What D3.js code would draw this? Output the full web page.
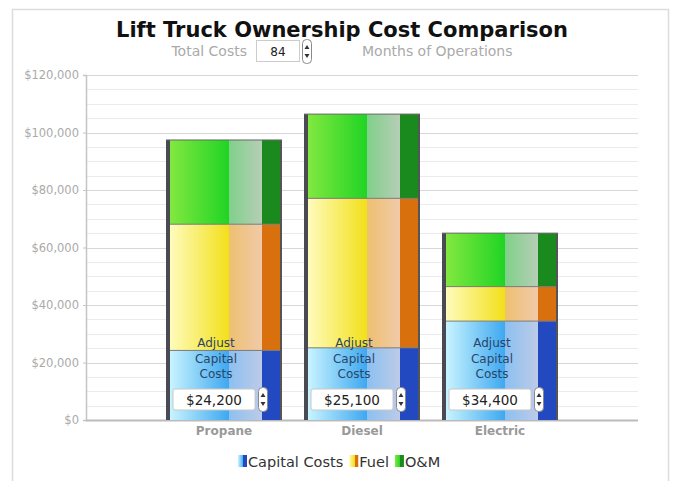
<!DOCTYPE html>
<html>
<head>
<meta charset="utf-8">
<script src="https://cdn.jsdelivr.net/npm/d3@7/dist/d3.min.js"></script>
<style>
  html, body { margin: 0; padding: 0; background: #fff; }
  svg { display: block; font-family: "DejaVu Sans", Verdana, sans-serif; }
</style>
</head>
<body>
<svg id="chart" width="678" height="481"></svg>
<script>
// Chart values
const categories = ['Propane', 'Diesel', 'Electric'];
const capital = [24200, 25100, 34400];
const fuel = [43900, 52000, 12000];
const om = [29300, 29300, 18600];
const capitalLabels = ['$24,200', '$25,100', '$34,400'];
const yTicks = [0, 20000, 40000, 60000, 80000, 100000, 120000];
const months = 84;
const seriesNames = ['Capital Costs', 'Fuel', 'O&M'];

const W = 678, H = 481;
const margin = { top: 75, right: 40, bottom: 61, left: 86 };
const svg = d3.select('#chart');

// outer frame
svg.append('rect').attr('x', 12.5).attr('y', 9.5).attr('width', 656).attr('height', 475)
  .attr('fill', '#fff').attr('stroke', '#dcdcdc').attr('stroke-width', 1.5);

const x = d3.scalePoint().domain(categories).range([margin.left, W - margin.right]).padding(1);
const y = d3.scaleLinear().domain([0, 120000]).range([H - margin.bottom, margin.top]);

// gradients — face has a bright part then a muted part, plus a darker side strip
const defs = svg.append('defs');
const palette = {
  'Capital Costs': { a: '#c8f4ff', b: '#3ea8f0', c: '#8cc0f0', d: '#bccbe8', side: '#2349c0' },
  'Fuel':          { a: '#fffbbc', b: '#f2e01a', c: '#eec070', d: '#f0caa8', side: '#d8700e' },
  'O&M':           { a: '#82e840', b: '#20d424', c: '#80d08a', d: '#b6ceb6', side: '#1b8a1e' }
};
seriesNames.forEach((s, i) => {
  const p = palette[s];
  const g = defs.append('linearGradient').attr('id', 'face' + i)
    .attr('x1', 0).attr('x2', 1).attr('y1', 0).attr('y2', 0);
  [[0, p.a], [0.64, p.b], [0.64, p.c], [1, p.d]].forEach(([o, c]) =>
    g.append('stop').attr('offset', o).attr('stop-color', c));
  const lg = defs.append('linearGradient').attr('id', 'leg' + i)
    .attr('x1', 0).attr('x2', 1).attr('y1', 0).attr('y2', 0);
  [[0, p.a], [0.6, p.b], [0.6, p.side], [1, p.side]].forEach(([o, c]) =>
    lg.append('stop').attr('offset', o).attr('stop-color', c));
});

// grid lines every 5000
const minor = d3.range(5000, 120001, 5000);
svg.append('g').selectAll('line').data(minor).join('line')
  .attr('x1', margin.left).attr('x2', W - margin.right)
  .attr('y1', d => Math.round(y(d)) + 0.5).attr('y2', d => Math.round(y(d)) + 0.5)
  .attr('stroke', d => d % 20000 === 0 ? '#d8d8d8' : '#ebebeb').attr('stroke-width', 1);

// y axis
const yAxis = svg.append('g').attr('transform', `translate(${margin.left},0)`)
  .call(d3.axisLeft(y).tickValues(yTicks).tickSize(3).tickFormat(d => '$' + d3.format(',')(d)));
yAxis.select('.domain').attr('stroke', '#c4c4c4').attr('stroke-width', 1.5);
yAxis.selectAll('.tick line').attr('stroke', '#c4c4c4');
yAxis.selectAll('.tick text').attr('fill', '#aaa').attr('font-size', 11.5)
  .attr('font-family', '"DejaVu Sans", sans-serif').attr('dx', -1);

// baseline
svg.append('line').attr('x1', margin.left).attr('x2', W - margin.right)
  .attr('y1', y(0) + 0.5).attr('y2', y(0) + 0.5).attr('stroke', '#bbb').attr('stroke-width', 2);

// bars
const barW = 116, leftEdge = 4, sideW = 18, rightEdge = 2;
const faceW = barW - leftEdge - sideW - rightEdge;
const stacks = categories.map((c, i) => {
  const vals = [capital[i], fuel[i], om[i]];
  let acc = 0;
  return vals.map((v, k) => { const s = { cat: c, k, y0: acc, y1: acc + v }; acc += v; return s; });
});

categories.forEach((c, i) => {
  const bx = x(c) - barW / 2;
  const g = svg.append('g');
  stacks[i].forEach(s => {
    const top = y(s.y1), bot = y(s.y0);
    const p = palette[seriesNames[s.k]];
    g.append('rect').attr('x', bx + leftEdge).attr('y', top).attr('width', faceW).attr('height', bot - top)
      .attr('fill', `url(#face${s.k})`);
    g.append('rect').attr('x', bx + leftEdge + faceW).attr('y', top).attr('width', sideW).attr('height', bot - top)
      .attr('fill', p.side);
    if (s.k > 0) {
      g.append('line').attr('x1', bx + leftEdge).attr('x2', bx + barW - rightEdge)
        .attr('y1', bot).attr('y2', bot).attr('stroke', '#7a7a7a').attr('stroke-width', 1);
    }
  });
  const total = stacks[i][2].y1;
  g.append('rect').attr('x', bx).attr('y', y(total)).attr('width', leftEdge).attr('height', y(0) - y(total))
    .attr('fill', '#4a4a52');
  g.append('rect').attr('x', bx + barW - rightEdge).attr('y', y(total)).attr('width', rightEdge).attr('height', y(0) - y(total))
    .attr('fill', '#555');
  g.append('line').attr('x1', bx).attr('x2', bx + barW).attr('y1', y(total)).attr('y2', y(total))
    .attr('stroke', '#666').attr('stroke-width', 1);

  // Adjust capital text + input
  const cx = bx + leftEdge + faceW / 2;
  const base = y(0);
  ['Adjust', 'Capital', 'Costs'].forEach((t, j) => {
    g.append('text').attr('x', cx).attr('y', base - 73 + j * 15.5).attr('text-anchor', 'middle')
      .attr('font-size', 12).attr('fill', '#2c4468').text(t);
  });
  const ix = bx + 7;
  g.append('rect').attr('x', ix).attr('y', base - 31).attr('width', 82).attr('height', 21).attr('rx', 2)
    .attr('fill', '#fff').attr('stroke', '#c8c8c8');
  g.append('text').attr('x', ix + 41).attr('y', base - 15.5).attr('text-anchor', 'middle')
    .attr('font-size', 13.5).attr('fill', '#222').text(capitalLabels[i]);
  spinner(g, ix + 85, base - 33);
});

function spinner(g, sx, sy) {
  g.append('rect').attr('x', sx + 0.5).attr('y', sy + 0.5).attr('width', 9).attr('height', 24).attr('rx', 4)
    .attr('fill', '#fff').attr('stroke', '#8a8a8a');
  g.append('path').attr('d', `M${sx + 2.5},${sy + 10} L${sx + 5},${sy + 6} L${sx + 7.5},${sy + 10} Z`).attr('fill', '#333');
  g.append('path').attr('d', `M${sx + 2.5},${sy + 15} L${sx + 5},${sy + 19} L${sx + 7.5},${sy + 15} Z`).attr('fill', '#333');
}

// category labels
svg.append('g').selectAll('text').data(categories).join('text')
  .attr('x', d => x(d)).attr('y', y(0) + 15).attr('text-anchor', 'middle')
  .attr('font-size', 12).attr('font-weight', 'bold').attr('fill', '#999').text(d => d);

// title
svg.append('text').attr('x', 342).attr('y', 37).attr('text-anchor', 'middle')
  .attr('font-size', 21).attr('font-weight', 'bold').attr('fill', '#111')
  .text('Lift Truck Ownership Cost Comparison');

// months control
svg.append('text').attr('x', 247).attr('y', 55.5).attr('text-anchor', 'end')
  .attr('font-size', 14).attr('fill', '#aaa').text('Total Costs');
svg.append('rect').attr('x', 256.5).attr('y', 40.5).attr('width', 43).attr('height', 21)
  .attr('fill', '#fff').attr('stroke', '#ccc');
svg.append('text').attr('x', 278).attr('y', 55.5).attr('text-anchor', 'middle')
  .attr('font-size', 12).attr('fill', '#222').text(months);
spinner(svg, 302, 39);
svg.append('text').attr('x', 362).attr('y', 55.5)
  .attr('font-size', 14).attr('fill', '#aaa').text('Months of Operations');

// legend, laid out left to right
const lg = svg.append('g');
let lx = 238;
seriesNames.forEach((s, i) => {
  lg.append('rect').attr('x', lx).attr('y', 455).attr('width', 9).attr('height', 12)
    .attr('fill', `url(#leg${i})`);
  const t = lg.append('text').attr('x', lx + 10).attr('y', 466.5).attr('font-size', 14.5)
    .attr('fill', '#333').text(s);
  lx += 10 + t.node().getComputedTextLength() + 6;
});
</script>
</body>
</html>
